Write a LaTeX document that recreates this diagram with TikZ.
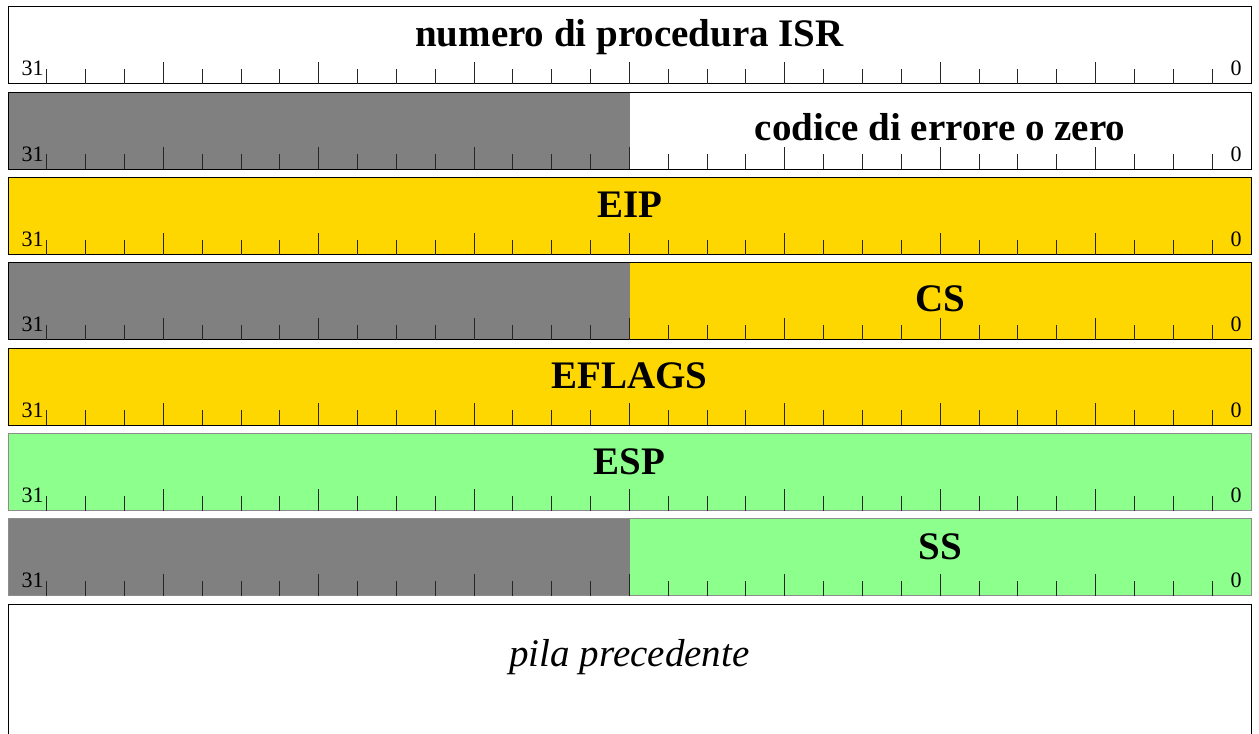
\documentclass[tikz,border=0pt]{standalone}
\usepackage{fontspec}
\setmainfont{Liberation Serif}
\usetikzlibrary{positioning,calc}

\definecolor{regyellow}{RGB}{255,215,0}
\definecolor{reggreen}{RGB}{140,255,140}
\definecolor{reggray}{RGB}{128,128,128}

% #1 name, #2 top, #3 left fill, #4 right fill, #5 border
\newcommand{\bitrow}[5]{%
  \fill[#3] (8,#2) rectangle (629.5,#2+77);
  \fill[#4] (629.5,#2) rectangle (1251,#2+77);
  \draw[#5] (8,#2) rectangle (1251,#2+77);
  \foreach \i in {1,...,31} {
    \pgfmathsetmacro{\ticklen}{ifthenelse(mod(\i,4)==0,22,15)}
    \draw[tick] (8+\i*38.84,#2+77) -- ++(0,-\ticklen);
  }
  \node[bitnum, anchor=base east] (#1-hi) at (44,#2+69) {31};
  \node[bitnum, anchor=base] (#1-lo) at (1236,#2+69) {0};
}

\begin{document}
\begin{tikzpicture}[x=0.75pt, y=-0.75pt, line width=0.75pt]
        \tikzstyle{tick}=[line width=0.75pt, black!85]
        \tikzstyle{bitnum}=[inner sep=0pt, font=\fontsize{16.5}{18}\selectfont]
        \tikzstyle{field}=[inner sep=0pt, font=\fontsize{29.25}{34}\selectfont\bfseries]
        \useasboundingbox (0,0) rectangle (1259,734);

        \bitrow{isr}{7}{white}{white}{black}
        \bitrow{err}{92.3}{reggray}{white}{black}
        \bitrow{eip}{177.6}{regyellow}{regyellow}{black}
        \bitrow{cs}{262.9}{reggray}{regyellow}{black}
        \bitrow{efl}{348.2}{regyellow}{regyellow}{black}
        \bitrow{esp}{433.5}{reggreen}{reggreen}{black!45}
        \bitrow{ss}{518.8}{reggray}{reggreen}{black!45}

        \draw (8,740) -- (8,604) -- (1251,604) -- (1251,740);

        \node[field, anchor=base]    (ISR)    at (629.5,47)  {numero di procedura ISR};
        \node[field, anchor=base]    (ERR)    at (940,141)   {codice di errore o zero};
        \node[field, anchor=base]    (EIP)    at (629.5,218) {EIP};
        \node[field, anchor=base]    (CS)     at (940,311)   {CS};
        \node[field, anchor=base]    (EFLAGS) at (629.5,388) {EFLAGS};
        \node[field, anchor=base]    (ESP)    at (629.5,474) {ESP};
        \node[field, anchor=base]    (SS)     at (940,559)   {SS};
        \node[inner sep=0pt, anchor=base, font=\fontsize{29.25}{34}\selectfont\itshape]
                                     (pila)   at (629.5,666) {pila precedente};
\end{tikzpicture}
\end{document}
